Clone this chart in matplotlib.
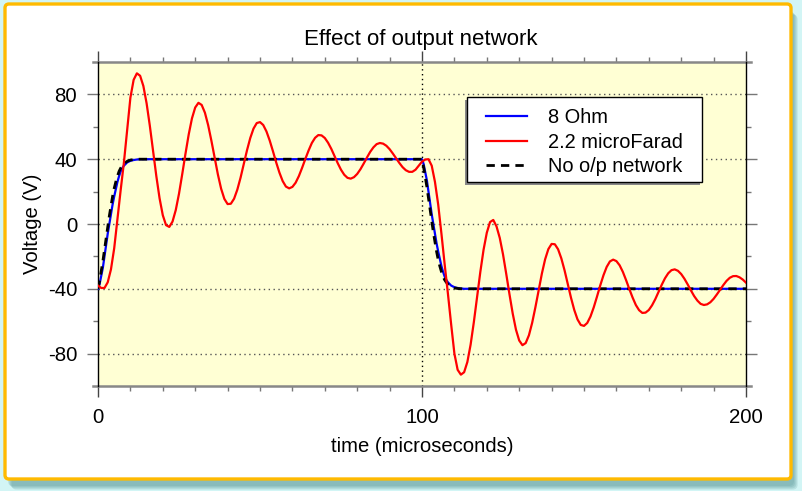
import numpy as np
import matplotlib.pyplot as plt
from matplotlib.patches import FancyBboxPatch, Rectangle
from matplotlib.lines import Line2D
from matplotlib.transforms import IdentityTransform

plt.rcParams['font.family'] = ['Liberation Sans', 'DejaVu Sans']
plt.rcParams['axes.unicode_minus'] = False

# 8 Ohm load (blue)
ohm_t = [0, 0.5, 1, 1.5, 2, 2.5, 3, 3.5, 4, 4.5, 5, 5.5, 6, 6.5, 7, 7.5, 8, 9, 10, 11, 12, 13,
         100, 100.5, 101, 101.5, 102, 102.5, 103, 103.5, 104, 104.5, 105, 105.5, 106, 106.5, 107, 107.5,
         108, 109, 110, 111, 112, 113, 200]
ohm_v = [-40, -37, -32, -27, -20, -13, -6, 0, 6, 12, 17, 21.5, 26, 29.5, 32.5, 34.5, 36, 38, 39, 39.5, 39.8, 40,
         40, 37, 32, 27, 20, 13, 6, 0, -6, -12, -17, -21.5, -26, -29.5, -32.5, -34.5,
         -36, -38, -39, -39.5, -39.8, -40, -40]

# no output network (black dashed)
direct_t = [0, 0.5, 1, 1.5, 2, 2.5, 3, 3.5, 4, 4.5, 5, 5.5, 6, 6.5, 7, 7.5, 8, 9, 10, 11, 12,
            100, 100.5, 101, 101.5, 102, 102.5, 103, 103.5, 104, 104.5, 105, 105.5, 106, 106.5, 107, 107.5,
            108, 109, 110, 111, 112, 200]
direct_v = [-40, -35, -29, -23, -16, -9, -2, 5, 11, 17, 22, 26, 29.5, 32.5, 34.5, 36, 37.2, 38.7, 39.5, 39.8, 40,
            40, 35, 29, 23, 16, 9, 2, -5, -11, -17, -22, -26, -29.5, -32.5, -34.5, -36,
            -37.2, -38.7, -39.5, -39.8, -40, -40]

# 2.2 microFarad load (red), one value per microsecond
cap_t = np.arange(0, 201)
cap_v = [-38, -39.5, -39.5, -36, -28, -15, 3, 21, 38, 58,
         78, 89, 93, 91.5, 85.2, 74.5, 60.6, 45.1, 29.6, 15.9,
         5.4, -0.7, -1.8, 1.5, 8.6, 18.7, 30.8, 43.4, 55.3, 65.2,
         71.9, 74.8, 73.5, 68.7, 61.0, 51.4, 40.9, 30.6, 21.8, 15.5,
         12.3, 12.5, 15.6, 21.2, 28.6, 37.1, 45.6, 53.1, 58.9, 62.3,
         62.9, 61.1, 57.1, 51.5, 44.9, 38.0, 31.7, 26.5, 23.1, 22.0,
         22.9, 25.5, 29.6, 34.7, 40.2, 45.4, 50.0, 53.2, 54.9, 54.7,
         53.1, 50.2, 46.4, 42.0, 37.5, 33.5, 30.4, 28.5, 28.0, 28.9,
         30.9, 33.8, 37.3, 41.0, 44.5, 47.3, 49.3, 50.0, 49.6, 48.3,
         46.2, 43.5, 40.6, 37.7, 35.1, 33.2, 32.2, 32.2, 33.5, 36.0,
         38.5, 39.8, 40.0, 36, 26, 12, -6, -25, -43, -62,
         -80, -90, -93, -91.5, -85.2, -74.5, -60.6, -45.1, -29.6, -15.9,
         -5.4, 1.2, 2.5, -1.5, -8.6, -18.7, -30.8, -43.4, -55.3, -65.2,
         -71.9, -74.8, -73.5, -68.7, -61.0, -51.4, -40.9, -30.6, -21.8, -15.5,
         -12.3, -12.5, -15.6, -21.2, -28.6, -37.1, -45.6, -53.1, -58.9, -62.3,
         -62.9, -61.1, -57.1, -51.5, -44.9, -38.0, -31.7, -26.5, -23.1, -22.0,
         -22.9, -25.5, -29.6, -34.7, -40.2, -45.4, -50.0, -53.2, -54.9, -54.7,
         -53.1, -50.2, -46.4, -42.0, -37.5, -33.5, -30.4, -28.5, -28.0, -28.9,
         -30.9, -33.8, -37.3, -41.0, -44.5, -47.3, -49.3, -50.0, -49.6, -48.3,
         -46.2, -43.5, -40.6, -37.7, -35.1, -33.2, -32.2, -32.1, -32.9, -34.3,
         -36.2]

x_major = [0, 100, 200]
y_major = [-80, -40, 0, 40, 80]

fig = plt.figure(figsize=(8.02, 4.91), dpi=100)
fig.patch.set_facecolor('#D2F5F5')

# panel shadow + panel
for k in range(4):
    fig.add_artist(FancyBboxPatch((0.08 + 0.012 * k, 0.05 - 0.012 * k), 7.86, 4.75,
                                  boxstyle='round,pad=0,rounding_size=0.05',
                                  transform=fig.dpi_scale_trans, fc='#4E8E8E', ec='none',
                                  alpha=0.18, zorder=-6))
fig.add_artist(FancyBboxPatch((0.05, 0.12), 7.86, 4.75, boxstyle='round,pad=0,rounding_size=0.04',
                              transform=fig.dpi_scale_trans, fc='white', ec='#FFBA00', lw=2.4, zorder=-5))

ax = fig.add_axes([98 / 802, 105 / 491, 648 / 802, 324 / 491])
ax.set_facecolor('#FFFFD4')

ax.plot(ohm_t, ohm_v, color='#0000FF', lw=1.6, label='8 Ohm', zorder=3)
ax.plot(cap_t, cap_v, color='#FF0000', lw=1.6, label='2.2 microFarad', zorder=4)
ax.plot(direct_t, direct_v, color='black', lw=2.0, ls=(0, (3, 2.2)), label='No o/p network', zorder=3.5)

ax.set_xlim(0, 200)
ax.set_ylim(-100, 100)
ax.set_xticks(x_major)
ax.set_xticks(np.arange(0, 201, 10), minor=True)
ax.set_yticks(y_major)
ax.set_yticks([-60, -20, 20, 60], minor=True)
ax.tick_params(which='both', direction='out', top=True, right=True, labelsize=14.7, colors='#777777',
               labelcolor='black')
ax.tick_params(which='major', length=8, width=1)
ax.tick_params(which='minor', length=3.5, width=1)
ax.tick_params(axis='x', which='major', pad=8, colors='#444444', labelcolor='black')
ax.tick_params(axis='y', which='major', pad=7)

ax.grid(True, which='major', axis='y', color='#555555', lw=1, ls=(0, (1, 2.5)))
ax.axvline(100, color='black', lw=1, ls=(0, (1, 2.5)), zorder=1)

for s in ['left', 'right']:
    ax.spines[s].set_color('black')
    ax.spines[s].set_linewidth(1)
for s in ['top', 'bottom']:
    ax.spines[s].set_visible(False)
for yy in [0, 1]:
    ax.add_line(Line2D([-0.008, 1.008], [yy, yy], transform=ax.transAxes, color='#888888',
                       lw=1.8, clip_on=False, zorder=2.5))

# legend entries without frame; box drawn by hand below
leg = ax.legend(loc='upper left', bbox_to_anchor=(486 / 802, 1 - 108 / 491), bbox_transform=fig.transFigure,
                frameon=False, borderaxespad=0, borderpad=0, fontsize=14.4,
                handlelength=2.05, handletextpad=1.05, labelspacing=0.28)
leg.set_zorder(6)

box_x0, box_y0, box_w, box_h = 467, 491 - 182, 235, 85
ax.add_patch(Rectangle((box_x0 - 2.5, box_y0 - 2.5), box_w, box_h, transform=IdentityTransform(),
                       fc='#888888', ec='none', clip_on=False, zorder=5.4))
ax.add_patch(Rectangle((box_x0, box_y0), box_w, box_h, transform=IdentityTransform(),
                       fc='white', ec='black', lw=1, clip_on=False, zorder=5.5))

fig.text(421 / 802, 1 - 40 / 491, 'Effect of output network', ha='center', va='center', fontsize=16)
fig.text(422 / 802, 1 - 446 / 491, 'time (microseconds)', ha='center', va='center', fontsize=14.6)
fig.text(33 / 802, 1 - 224 / 491, 'Voltage (V)', ha='center', va='center', rotation=90, fontsize=14.6)

fig.savefig('out.png', dpi=100)
